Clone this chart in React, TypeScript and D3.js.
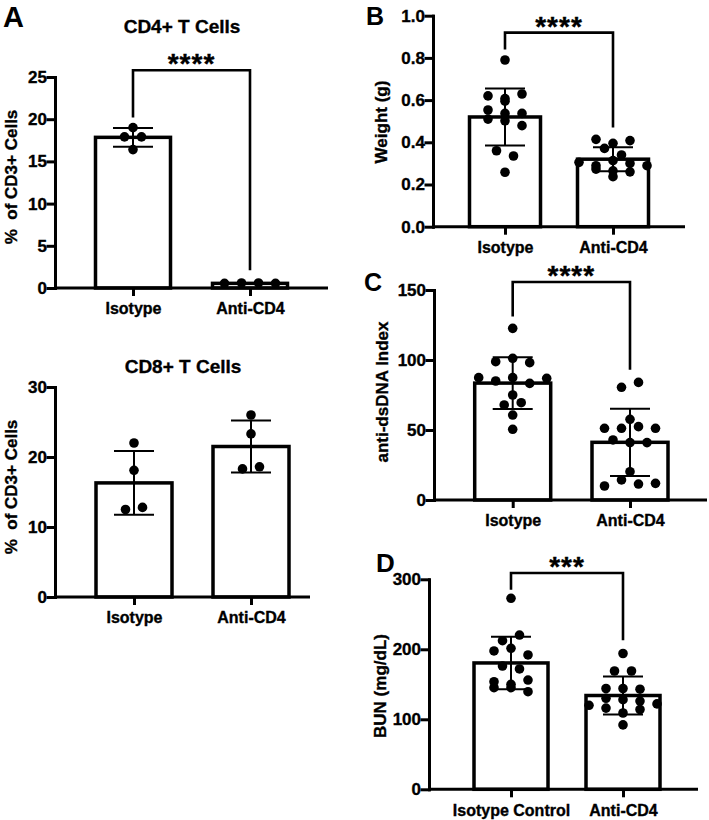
import React, { useEffect, useRef } from 'react';
import * as d3 from 'd3';

const W = 709;
const H = 820;
const FONT = "'Liberation Sans', Arial, Helvetica, sans-serif";

const groups = ['Isotype', 'Anti-CD4'];
const groupsBun = ['Isotype Control', 'Anti-CD4'];

// A (top): CD4+ T cells, % of CD3+ cells
const cd4Isotype = [19.0, 17.9, 17.9, 16.4];
const cd4Anti = [0.55, 0.6, 0.6, 0.55];
const cd4Mean = [17.85, 0.55];
const cd4Sd = [1.1, 0.05];

// A (bottom): CD8+ T cells, % of CD3+ cells
const cd8Isotype = [22.0, 18.1, 12.5, 12.8];
const cd8Anti = [26.0, 23.3, 18.3, 18.6];
const cd8Mean = [16.3, 21.5];
const cd8Sd = [4.55, 3.7];

// B: weight (g)
const weightIsotype = [0.79, 0.62, 0.595, 0.607, 0.629, 0.553, 0.537, 0.537, 0.51, 0.502, 0.479, 0.36, 0.335, 0.258];
const weightAnti = [0.414, 0.395, 0.408, 0.371, 0.34, 0.305, 0.289, 0.313, 0.30, 0.289, 0.273, 0.265, 0.26, 0.237];
const weightMean = [0.52, 0.32];
const weightSd = [0.135, 0.057];

// C: anti-dsDNA index
const dsdnaIsotype = [122.6, 98.8, 101.2, 98.1, 87.4, 85.0, 87.4, 83.3, 86.9, 75.0, 67.9, 69.5, 60.7, 50.5];
const dsdnaAnti = [80.5, 84.0, 57.6, 51.2, 51.2, 52.4, 51.2, 42.9, 41.0, 41.0, 20.2, 10.0, 14.3, 11.4, 11.9];
const dsdnaMean = [83.5, 41.2];
const dsdnaSd = [18.5, 24.0];

// D: BUN (mg/dL)
const bunIsotype = [272.9, 212.3, 220.4, 197.6, 201.4, 191.9, 176.1, 171.9, 153.7, 150.0, 156.1, 145.1, 145.1, 139.4];
const bunAnti = [194, 169, 169, 144, 144, 143, 120, 130, 128, 126, 122, 116, 109, 114, 92];
const bunMean = [180.5, 134];
const bunSd = [37.5, 27];

const panels = [
  {
    key: 'cd4', letter: 'A', letterPos: [3, 27], letterSize: 29,
    title: 'CD4+ T Cells', titlePos: [182, 33],
    yLabel: '%  of CD3+ Cells', yLabelPos: [17, 177],
    groups, points: [cd4Isotype, cd4Anti], means: cd4Mean, sds: cd4Sd,
    yDomain: [0, 25], yRange: [288, 77], ticks: [0, 5, 10, 15, 20, 25], format: d3.format('d'),
    axisX: 55, axisEnd: 328, catRange: [133, 250], barWidth: 75,
    sig: '****', sigY: 25.8, sigLegs: [20.2, 2.1],
  },
  {
    key: 'cd8',
    title: 'CD8+ T Cells', titlePos: [183, 373],
    yLabel: '%  of CD3+ Cells', yLabelPos: [17, 487],
    groups, points: [cd8Isotype, cd8Anti], means: cd8Mean, sds: cd8Sd,
    yDomain: [0, 30], yRange: [597, 387], ticks: [0, 10, 20, 30], format: d3.format('d'),
    axisX: 55, axisEnd: 310, catRange: [134, 251], barWidth: 76,
  },
  {
    key: 'weight', letter: 'B', letterPos: [366, 25], letterSize: 25,
    yLabel: 'Weight (g)', yLabelPos: [387, 122],
    groups, points: [weightIsotype, weightAnti], means: weightMean, sds: weightSd,
    yDomain: [0, 1], yRange: [226.7, 15.7], ticks: [0, 0.2, 0.4, 0.6, 0.8, 1.0], format: d3.format('.1f'),
    axisX: 433, axisEnd: 685, catRange: [505, 613], barWidth: 71,
    sig: '****', sigY: 0.92, sigLegs: [0.84, 0.47],
  },
  {
    key: 'dsdna', letter: 'C', letterPos: [364, 291], letterSize: 25,
    yLabel: 'anti-dsDNA Index', yLabelPos: [388, 392],
    groups, points: [dsdnaIsotype, dsdnaAnti], means: dsdnaMean, sds: dsdnaSd,
    yDomain: [0, 150], yRange: [500, 290], ticks: [0, 50, 100, 150], format: d3.format('d'),
    axisX: 434, axisEnd: 707, catRange: [512.7, 630], barWidth: 76,
    sig: '****', sigY: 155.7, sigLegs: [131, 93],
  },
  {
    key: 'bun', letter: 'D', letterPos: [376, 572], letterSize: 26,
    yLabel: 'BUN (mg/dL)', yLabelPos: [385.5, 686],
    groups: groupsBun, points: [bunIsotype, bunAnti], means: bunMean, sds: bunSd,
    yDomain: [0, 300], yRange: [789.3, 579.3], ticks: [0, 100, 200, 300], format: d3.format('d'),
    axisX: 429, axisEnd: 698, catRange: [511, 623], barWidth: 74,
    sig: '***', sigY: 309, sigLegs: [285, 213],
  },
];

// GraphPad-like scatter: points close in y share a row and spread symmetrically
function swarm(values, y, step = 17, gap = 7) {
  const order = d3.range(values.length).sort((a, b) => values[b] - values[a]);
  const rows = [];
  let start = -Infinity;
  for (const i of order) {
    const py = y(values[i]);
    if (!rows.length || py - start > gap) {
      rows.push([i]);
      start = py;
    } else rows[rows.length - 1].push(i);
  }
  const offsets = new Array(values.length).fill(0);
  for (const row of rows) {
    row.sort((a, b) => a - b);
    row.forEach((i, k) => { offsets[i] = (k - (row.length - 1) / 2) * step; });
  }
  return offsets;
}

// thin outline to give the heavier look of the original bold type
const heavy = { stroke: '#000', strokeWidth: 0.35 };

function Panel({ spec }) {
  const yRef = useRef(null);
  const xRef = useRef(null);
  const y = d3.scaleLinear().domain(spec.yDomain).range(spec.yRange);
  const x = d3.scalePoint().domain(spec.groups).range(spec.catRange);
  const base = y(0);

  useEffect(() => {
    const ya = d3.select(yRef.current).call(
      d3.axisLeft(y).tickValues(spec.ticks).tickFormat(spec.format)
        .tickSize(7).tickSizeOuter(0).tickPadding(1)
    );
    ya.attr('font-family', null).attr('font-size', null);
    ya.selectAll('path, line').attr('stroke', '#000').attr('stroke-width', 3).attr('stroke-linecap', 'square');
    ya.selectAll('text').attr('fill', '#000').attr('stroke', '#000').attr('stroke-width', 0.35)
      .style('font-family', FONT).style('font-size', '17px').style('font-weight', 'bold');

    const xa = d3.select(xRef.current).call(d3.axisBottom(x).tickSize(8).tickPadding(7));
    xa.attr('font-family', null).attr('font-size', null);
    xa.select('.domain').remove();
    xa.selectAll('line').attr('stroke', '#000').attr('stroke-width', 3);
    xa.selectAll('text').attr('fill', '#000').attr('stroke', '#000').attr('stroke-width', 0.35)
      .style('font-family', FONT).style('font-size', '16px').style('font-weight', 'bold');
  }, [spec]);

  const mid = (x(spec.groups[0]) + x(spec.groups[1])) / 2;

  return (
    <g>
      {spec.groups.map((g, i) => (
        <rect key={g} x={x(g) - spec.barWidth / 2} y={y(spec.means[i])}
          width={spec.barWidth} height={base - y(spec.means[i])}
          fill="#fff" stroke="#000" strokeWidth={3.5} />
      ))}
      {spec.groups.map((g, i) => {
        const top = y(spec.means[i] + spec.sds[i]);
        const bot = y(Math.max(0, spec.means[i] - spec.sds[i]));
        const cx = x(g);
        return (
          <g key={g} stroke="#000" strokeWidth={2}>
            <line x1={cx} x2={cx} y1={top} y2={bot} />
            <line x1={cx - 20} x2={cx + 20} y1={top} y2={top} />
            <line x1={cx - 20} x2={cx + 20} y1={bot} y2={bot} />
          </g>
        );
      })}
      {spec.groups.map((g, i) => {
        const offs = swarm(spec.points[i], y);
        return spec.points[i].map((v, j) => (
          <circle key={`${g}-${j}`} cx={x(g) + offs[j]} cy={y(v)} r={4.8} fill="#000" />
        ));
      })}
      <g ref={yRef} transform={`translate(${spec.axisX},0)`} />
      <g ref={xRef} transform={`translate(0,${base})`} />
      <line x1={spec.axisX} x2={spec.axisEnd} y1={base} y2={base} stroke="#000" strokeWidth={3} />
      {spec.sig && (
        <g>
          <path
            d={`M${x(spec.groups[0])},${y(spec.sigLegs[0])}V${y(spec.sigY)}H${x(spec.groups[1])}V${y(spec.sigLegs[1])}`}
            fill="none" stroke="#000" strokeWidth={2.6} />
          <text x={mid} y={y(spec.sigY) + 3} textAnchor="middle" fontFamily={FONT}
            fontWeight="bold" fontSize={28} letterSpacing={1} {...heavy}>{spec.sig}</text>
        </g>
      )}
      {spec.title && (
        <text x={spec.titlePos[0]} y={spec.titlePos[1]} textAnchor="middle" fontFamily={FONT}
          fontWeight="bold" fontSize={19} {...heavy}>{spec.title}</text>
      )}
      <text transform={`translate(${spec.yLabelPos[0]},${spec.yLabelPos[1]}) rotate(-90)`}
        textAnchor="middle" fontFamily={FONT} fontWeight="bold" fontSize={17} {...heavy}
        style={{ whiteSpace: 'pre' }}>{spec.yLabel}</text>
      {spec.letter && (
        <text x={spec.letterPos[0]} y={spec.letterPos[1]} fontFamily={FONT}
          fontWeight="bold" fontSize={spec.letterSize}>{spec.letter}</text>
      )}
    </g>
  );
}

export default function App() {
  return (
    <svg width={W} height={H} style={{ position: 'absolute', left: 0, top: 0, background: '#fff' }}>
      <rect width={W} height={H} fill="#fff" />
      {panels.map(p => <Panel key={p.key} spec={p} />)}
    </svg>
  );
}
